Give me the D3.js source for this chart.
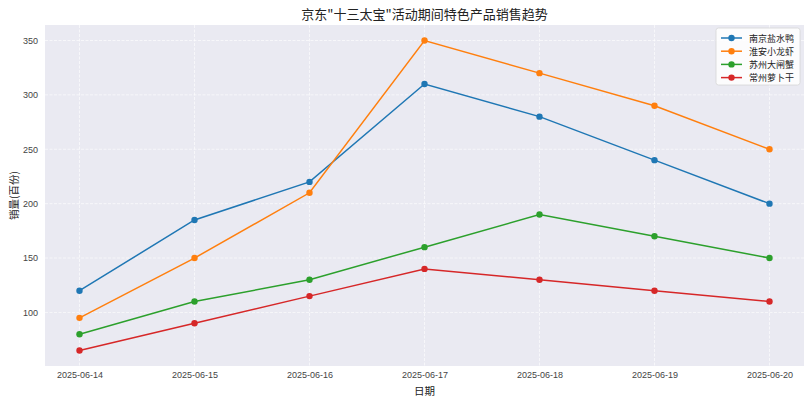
<!DOCTYPE html>
<html>
<head>
<meta charset="utf-8">
<script src="https://cdn.jsdelivr.net/npm/d3@7"></script>
<style>
  body { margin: 0; background: #fff; }
  svg { display: block; font-family: "Noto Sans CJK SC", "DejaVu Sans", sans-serif; }
</style>
</head>
<body>
<div id="chart"></div>
<script>
const dates = ["2025-06-14", "2025-06-15", "2025-06-16", "2025-06-17", "2025-06-18", "2025-06-19", "2025-06-20"];
const seriesNames = ["南京盐水鸭", "淮安小龙虾", "苏州大闸蟹", "常州萝卜干"];
const nanjing = [120, 185, 220, 310, 280, 240, 200];
const huaian = [95, 150, 210, 350, 320, 290, 250];
const suzhou = [80, 110, 130, 160, 190, 170, 150];
const changzhou = [65, 90, 115, 140, 130, 120, 110];
const yTicks = [100, 150, 200, 250, 300, 350];
const colors = ["#1f77b4", "#ff7f0e", "#2ca02c", "#d62728"];

const width = 808, height = 399;
const margin = { top: 25, right: 4, bottom: 33, left: 45 };

const series = [nanjing, huaian, suzhou, changzhou].map((values, i) => ({
    name: seriesNames[i],
    color: colors[i],
    values: values.map((v, j) => ({ date: dates[j], value: v }))
}));

const svg = d3.select('#chart')
    .append('svg')
    .attr('width', width)
    .attr('height', height);

// Scales
const x = d3.scalePoint()
    .domain(dates)
    .range([margin.left, width - margin.right])
    .padding(0.3);

const allValues = series.flatMap(s => s.values.map(d => d.value));
const [lo, hi] = d3.extent(allValues);
const pad = (hi - lo) * 0.05;
const y = d3.scaleLinear()
    .domain([lo - pad, hi + pad])
    .range([height - margin.bottom, margin.top]);

// Plot background
svg.append("rect")
    .attr("x", margin.left)
    .attr("y", margin.top)
    .attr("width", width - margin.left - margin.right)
    .attr("height", height - margin.top - margin.bottom)
    .attr("fill", "#eaeaf2");

// Grid
const grid = svg.append("g")
    .attr("stroke", "#fff")
    .attr("stroke-width", 0.8)
    .attr("stroke-opacity", 0.75)
    .attr("stroke-dasharray", "3,1.5");

grid.selectAll("line.h")
    .data(yTicks)
    .join("line")
    .attr("class", "h")
    .attr("x1", margin.left)
    .attr("x2", width - margin.right)
    .attr("y1", d => y(d))
    .attr("y2", d => y(d));

grid.selectAll("line.v")
    .data(dates)
    .join("line")
    .attr("class", "v")
    .attr("x1", d => x(d))
    .attr("x2", d => x(d))
    .attr("y1", margin.top)
    .attr("y2", height - margin.bottom);

// Axes
const xAxis = g => g
    .attr("transform", `translate(0,${height - margin.bottom})`)
    .call(d3.axisBottom(x).tickSize(0).tickPadding(6))
    .call(g => g.select(".domain").remove())
    .call(g => g.selectAll("text")
        .attr("fill", "#444")
        .attr("font-size", 9));

const yAxis = g => g
    .attr("transform", `translate(${margin.left},0)`)
    .call(d3.axisLeft(y).tickValues(yTicks).tickSize(0).tickPadding(7))
    .call(g => g.select(".domain").remove())
    .call(g => g.selectAll("text")
        .attr("fill", "#444")
        .attr("font-size", 9));

svg.append("g").call(xAxis);
svg.append("g").call(yAxis);

// Lines and points
const line = d3.line()
    .x(d => x(d.date))
    .y(d => y(d.value));

const groups = svg.append("g")
    .selectAll("g")
    .data(series)
    .join("g");

groups.append("path")
    .attr("d", d => line(d.values))
    .attr("fill", "none")
    .attr("stroke", d => d.color)
    .attr("stroke-width", 1.5);

groups.selectAll("circle")
    .data(d => d.values.map(v => ({ ...v, color: d.color })))
    .join("circle")
    .attr("cx", d => x(d.date))
    .attr("cy", d => y(d.value))
    .attr("r", 3.2)
    .attr("fill", d => d.color);

// Title and axis labels
svg.append("text")
    .attr("x", (margin.left + width - margin.right) / 2)
    .attr("y", 19)
    .attr("text-anchor", "middle")
    .attr("font-size", 13)
    .attr("fill", "#222")
    .text('京东"十三太宝"活动期间特色产品销售趋势');

svg.append("text")
    .attr("x", (margin.left + width - margin.right) / 2)
    .attr("y", 395)
    .attr("text-anchor", "middle")
    .attr("font-size", 10.5)
    .attr("fill", "#222")
    .text("日期");

svg.append("text")
    .attr("transform", `translate(18,${(margin.top + height - margin.bottom) / 2}) rotate(-90)`)
    .attr("text-anchor", "middle")
    .attr("font-size", 10.5)
    .attr("fill", "#222")
    .text("销量(百份)");

// Legend
const legend = svg.append("g")
    .attr("transform", "translate(716,28)");

legend.append("rect")
    .attr("width", 84)
    .attr("height", 57)
    .attr("rx", 2.5)
    .attr("fill", "#fff")
    .attr("fill-opacity", 0.85)
    .attr("stroke", "#d6d6d6")
    .attr("stroke-width", 0.8);

series.forEach((s, i) => {
    const row = legend.append("g")
        .attr("transform", `translate(0, ${10 + i * 13.2})`);

    row.append("line")
        .attr("x1", 5)
        .attr("x2", 26)
        .attr("stroke", s.color)
        .attr("stroke-width", 1.5);

    row.append("circle")
        .attr("cx", 15.5)
        .attr("r", 3.2)
        .attr("fill", s.color);

    row.append("text")
        .attr("x", 33)
        .attr("y", 3.5)
        .attr("fill", "#222")
        .attr("font-size", 9)
        .text(s.name);
});
</script>
</body>
</html>
